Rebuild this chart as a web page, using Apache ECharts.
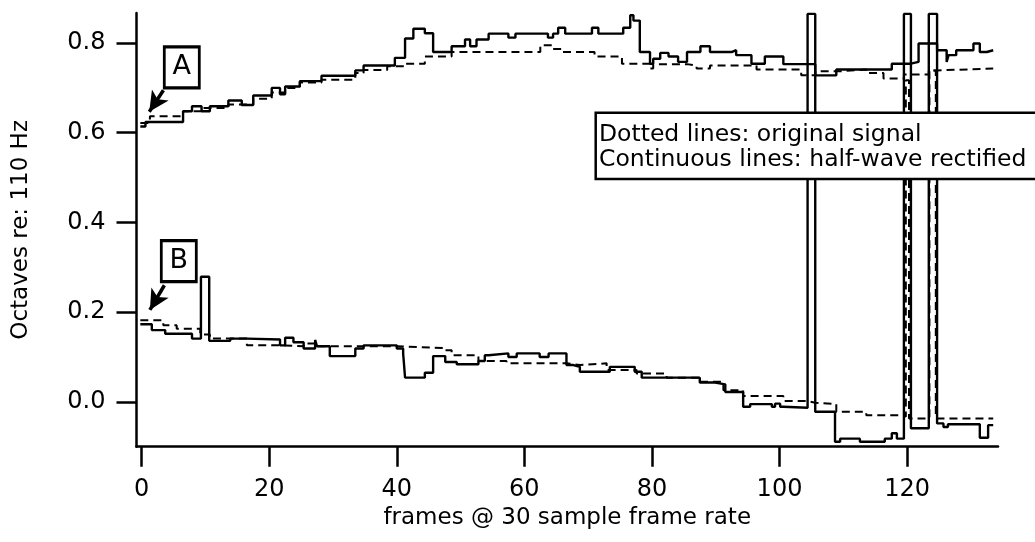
<!DOCTYPE html>
<html><head><meta charset="utf-8">
<script src="https://cdn.jsdelivr.net/npm/echarts@6/dist/echarts.min.js"></script>
<style>html,body{margin:0;padding:0;background:#fff}#c{width:1035px;height:542px}</style>
</head><body><div id="c"></div>
<script>
// ---- data (frame, octaves) : step breakpoints, value holds until next x ----
const xTicks = [0, 20, 40, 60, 80, 100, 120];
const yTicks = [0, 0.2, 0.4, 0.6, 0.8];

// Trace A, continuous (half-wave rectified)
const aSolidX = [-0.2, 0.6, 6.5, 7.9, 9.4, 10.7, 13.6, 15.7, 17.5, 20.4, 21.7, 22.5, 24.8, 28.2, 33.5, 34.8, 39.7, 41.3, 42.6, 44.4, 45.7, 48.6, 50.7, 51.5, 52.5, 54.4, 57.5, 58.6, 63.7, 64.5, 65.3, 66.4, 70.6, 71.6, 75.5, 76.6, 77.1, 78.1, 79.7, 80.2, 81.3, 82.6, 84.1, 85.5, 87.6, 89.1, 92.5, 93.2, 95.6, 97.7, 100.6, 105.6, 108.9, 117.6, 120.6, 121.8, 124.7, 126.2, 126.5, 127.7, 130.4, 131.4, 132.5, 133.5];
const aSolidY = [0.614, 0.624, 0.648, 0.659, 0.648, 0.659, 0.672, 0.662, 0.683, 0.700, 0.686, 0.703, 0.715, 0.727, 0.739, 0.750, 0.767, 0.810, 0.832, 0.822, 0.780, 0.793, 0.808, 0.793, 0.808, 0.821, 0.812, 0.821, 0.812, 0.821, 0.834, 0.821, 0.834, 0.821, 0.834, 0.862, 0.850, 0.780, 0.754, 0.765, 0.778, 0.770, 0.758, 0.780, 0.793, 0.780, 0.784, 0.773, 0.754, 0.770, 0.753, 0.728, 0.741, 0.754, 0.758, 0.799, 0.784, 0.758, 0.773, 0.784, 0.799, 0.780, 0.784, 0.784];

// Trace A, dotted (original signal)
const aDotX = [-0.2, 1.3, 6.5, 9.4, 13.6, 17.5, 20.4, 22.5, 24.8, 28.2, 33.5, 34.8, 38.5, 41.3, 44.4, 48.6, 62.5, 64.5, 66.0, 71.0, 75.3, 79.7, 80.2, 85.5, 87.0, 89.1, 96.4, 103.4, 105.6, 109.5, 113.6, 116.3, 119.5, 123.4, 124.7, 133.5];
const aDotY = [0.622, 0.637, 0.648, 0.655, 0.663, 0.676, 0.690, 0.700, 0.712, 0.718, 0.733, 0.740, 0.748, 0.754, 0.770, 0.780, 0.795, 0.787, 0.780, 0.770, 0.754, 0.743, 0.753, 0.750, 0.743, 0.750, 0.741, 0.728, 0.737, 0.741, 0.733, 0.721, 0.730, 0.739, 0.743, 0.743];

// Trace B, continuous (half-wave rectified)
const bSolidX = [-0.2, 1.6, 3.7, 7.9, 9.3, 10.6, 13.9, 16.5, 21.7, 22.5, 23.8, 25.4, 27.2, 27.5, 29.5, 33.5, 34.8, 40.0, 41.0, 41.3, 44.4, 45.7, 47.6, 49.4, 52.8, 53.8, 54.4, 57.5, 58.8, 62.4, 63.8, 66.6, 67.7, 68.7, 73.4, 77.3, 78.4, 87.5, 89.9, 91.5, 94.3, 95.4, 98.8, 99.3, 100.1, 100.6, 104.4, 105.6, 108.7, 109.5, 112.6, 116.5, 117.6, 118.4, 119.5, 120.6, 123.4, 124.7, 125.7, 126.4, 131.4, 132.7, 133.5];
const bSolidY = [0.173, 0.160, 0.152, 0.141, 0.279, 0.136, 0.141, 0.139, 0.126, 0.143, 0.133, 0.119, 0.138, 0.124, 0.102, 0.119, 0.126, 0.119, 0.108, 0.054, 0.065, 0.102, 0.089, 0.084, 0.091, 0.104, 0.108, 0.100, 0.108, 0.100, 0.108, 0.082, 0.078, 0.067, 0.078, 0.067, 0.054, 0.043, 0.039, 0.022, -0.011, -0.005, -0.011, -0.004, -0.011, -0.013, 0.865, -0.022, -0.089, -0.082, -0.089, -0.082, -0.070, -0.082, 0.865, -0.059, 0.865, -0.048, -0.056, -0.050, -0.080, -0.052, -0.052];

// Trace B, dotted (original signal)
const bDotX = [-0.2, 3.4, 5.5, 9.2, 10.7, 16.5, 22.2, 25.4, 27.4, 40.0, 41.3, 47.6, 48.6, 52.8, 57.2, 66.6, 68.7, 72.9, 77.6, 82.3, 87.5, 91.2, 94.3, 100.6, 104.2, 105.6, 108.9, 113.6, 118.9, 119.8, 120.3, 123.5, 124.5, 133.5];
const bDotY = [0.182, 0.171, 0.163, 0.150, 0.141, 0.126, 0.124, 0.130, 0.124, 0.123, 0.120, 0.115, 0.104, 0.091, 0.086, 0.082, 0.086, 0.071, 0.063, 0.054, 0.045, 0.026, 0.013, 0.002, -0.002, -0.005, -0.022, -0.030, -0.033, 0.717, -0.037, 0.739, -0.037, -0.037];

// annotation anchors in data coordinates
const labelA = {text: 'A', box: [6.3, 0.746], from: [3.42, 0.6946], to: [1.2, 0.647]};
const labelB = {text: 'B', box: [5.83, 0.3135], from: [3.57, 0.260], to: [1.3, 0.205]};

const legendLines = ['Dotted lines: original signal', 'Continuous lines: half-wave rectified'];

// ---------------------------------------------------------------------------
const FONT = '"DejaVu Sans", sans-serif';
const pairs = (xs, ys) => xs.map((x, i) => [x, ys[i]]);

function lineSeries(name, xs, ys, dashed, extra) {
  return Object.assign({
    name: name, type: 'line', step: 'end', data: pairs(xs, ys),
    showSymbol: false, symbol: 'none', silent: true, animation: false,
    lineStyle: dashed ? {color: '#000', width: 2, type: [8, 5]} : {color: '#000', width: 2.4},
    z: dashed ? 2 : 3
  }, extra || {});
}

function boxPoint(l) {
  return {
    coord: l.box, symbol: 'rect', symbolSize: [35, 41],
    itemStyle: {color: '#fff', borderColor: '#000', borderWidth: 3},
    label: {show: true, position: 'inside', formatter: l.text, color: '#000', fontFamily: FONT, fontSize: 27}
  };
}
function arrowLine(l) {
  return [{coord: l.from}, {coord: l.to}];
}

const chart = echarts.init(document.getElementById('c'), null, {renderer: 'canvas'});
chart.setOption({
  animation: false,
  backgroundColor: '#fff',
  grid: {left: 136.5, right: 37, top: 13, bottom: 95.3, containLabel: false},
  xAxis: {
    type: 'value', min: -0.8, max: 134.25,
    name: 'frames @ 30 sample frame rate', nameLocation: 'middle', nameGap: 66.5,
    nameTextStyle: {fontFamily: FONT, fontSize: 23, color: '#000', verticalAlign: 'middle'},
    axisLine: {show: true, onZero: false, lineStyle: {color: '#000', width: 2.5}},
    axisTick: {show: true, inside: false, length: 20, customValues: xTicks, lineStyle: {color: '#000', width: 2.5}},
    axisLabel: {customValues: xTicks, margin: 43, verticalAlign: 'middle', fontFamily: FONT, fontSize: 24, color: '#000'},
    splitLine: {show: false}
  },
  yAxis: {
    type: 'value', min: -0.1, max: 0.867,
    name: 'Octaves re: 110 Hz', nameLocation: 'middle', nameGap: 115.5, nameRotate: 90,
    nameTextStyle: {fontFamily: FONT, fontSize: 23, color: '#000', verticalAlign: 'middle'},
    axisLine: {show: true, onZero: false, lineStyle: {color: '#000', width: 2.5}},
    axisTick: {show: true, inside: false, length: 20, customValues: yTicks, lineStyle: {color: '#000', width: 2.5}},
    axisLabel: {customValues: yTicks, margin: 31, fontFamily: FONT, fontSize: 24, color: '#000',
      formatter: v => v.toFixed(1)},
    splitLine: {show: false}
  },
  series: [
    lineSeries('A original', aDotX, aDotY, true),
    lineSeries('B original', bDotX, bDotY, true),
    lineSeries('B rectified', bSolidX, bSolidY, false),
    lineSeries('A rectified', aSolidX, aSolidY, false, {
      markLine: {
        silent: true, animation: false, symbol: ['none', 'arrow'], symbolSize: [15, 20],
        label: {show: false},
        lineStyle: {type: 'solid', color: '#000', width: 3.5},
        data: [arrowLine(labelA), arrowLine(labelB)]
      },
      markPoint: {
        silent: true, animation: false,
        data: [boxPoint(labelA), boxPoint(labelB)]
      }
    })
  ],
  graphic: [
    {type: 'rect', z: 100, silent: true, shape: {x: 595.7, y: 112.7, width: 460, height: 66.3},
     style: {fill: '#fff', stroke: '#000', lineWidth: 2.5}},
    {type: 'text', z: 101, silent: true, x: 599, y: 134.7,
     style: {text: legendLines[0], fontFamily: FONT, fontSize: 23.5, fill: '#000', verticalAlign: 'middle', align: 'left'}},
    {type: 'text', z: 101, silent: true, x: 599, y: 159.7,
     style: {text: legendLines[1], fontFamily: FONT, fontSize: 23.5, fill: '#000', verticalAlign: 'middle', align: 'left'}}
  ]
});
</script>
</body></html>
